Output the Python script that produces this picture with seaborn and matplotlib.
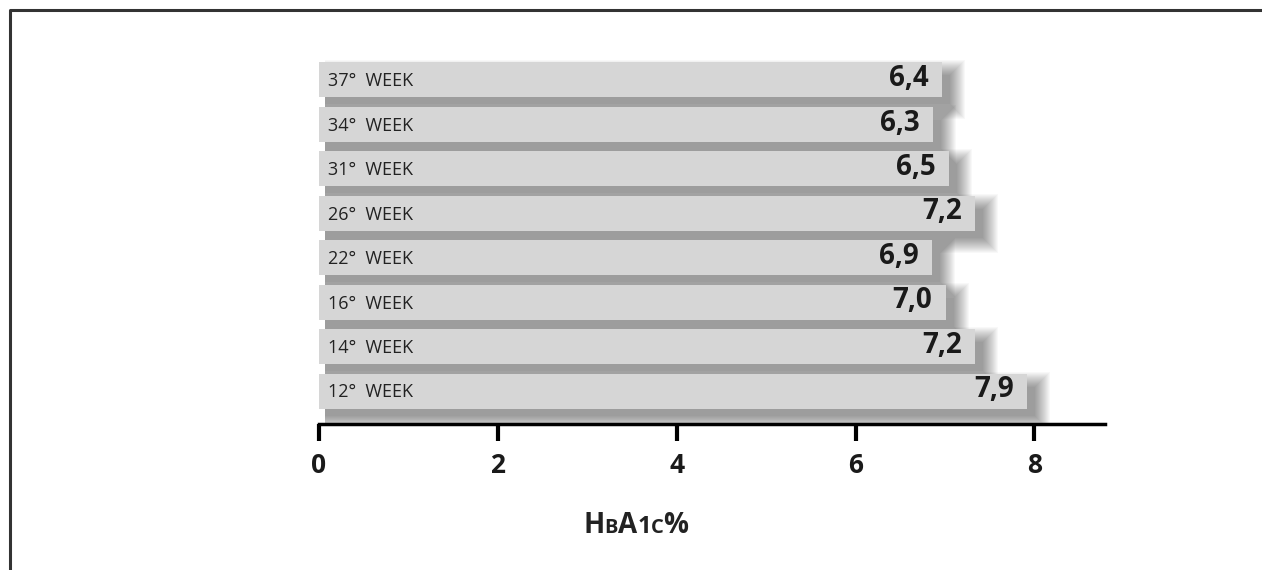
import matplotlib
matplotlib.use("Agg")
import matplotlib.pyplot as plt
import numpy as np
import pandas as pd
import seaborn as sns
from matplotlib.lines import Line2D

weeks = ["37°  WEEK", "34°  WEEK", "31°  WEEK", "26°  WEEK", "22°  WEEK", "16°  WEEK", "14°  WEEK", "12°  WEEK"]
hba1c = [6.4, 6.3, 6.5, 7.2, 6.9, 7.0, 7.2, 7.9]
# bar lengths as drawn in the original chart (not exactly proportional to the printed values)
bar_len = [6.97, 6.87, 7.05, 7.34, 6.86, 7.01, 7.34, 7.92]
ticks = [0, 2, 4, 6, 8]

df = pd.DataFrame({"week": weeks, "len": bar_len, "val": hba1c})

sns.set_style("white")
plt.rcParams["font.family"] = ["Open Sans", "DejaVu Sans"]

fig = plt.figure(figsize=(12.62, 5.70), dpi=100)
ax = fig.add_axes([319 / 1262, (570 - 424) / 570, (1105 - 319) / 1262, (424 - 55) / 570])

pos = np.arange(len(weeks))
bh = 0.79
px_x, px_y = 89.4, 44.4
# soft drop shadow: many stacked translucent layers
for s in np.arange(0, 16, 1.0):
    ax.barh(pos + 10 / px_y, df["len"] + (2 + s) / px_x, height=bh + 2 * s / px_y - 6 / px_y,
            left=6 / px_x, color="black", alpha=0.028, linewidth=0, zorder=1)

sns.barplot(data=df, x="len", y="week", orient="h", color="#d6d6d6", saturation=1,
            width=bh, ax=ax, zorder=3)
for p in ax.patches:
    if p.get_zorder() == 3:
        p.set_linewidth(0)

for i, (w, L, v) in enumerate(zip(weeks, bar_len, hba1c)):
    ax.text(0.1, i + 0.03, w, va="center", ha="left", fontsize=13, color="#222222", zorder=5)
    ax.text(L - 0.15, i - 0.03, f"{v:.1f}".replace(".", ","), va="center", ha="right",
            fontsize=20, fontweight="bold", color="#1a1a1a", zorder=5)

ax.set_xlim(0, 8.79)
ax.set_ylim(7 + 0.74, -0.56)
ax.set_xticks(ticks)
ax.set_xticklabels([str(t) for t in ticks], fontsize=19, fontweight="bold", color="#1a1a1a")
ax.tick_params(axis="x", direction="out", length=12, width=3, color="black", pad=8, bottom=True)
ax.set_yticks([])
ax.set_ylabel("")
ax.set_xlabel("")
for sp in ["left", "top", "right"]:
    ax.spines[sp].set_visible(False)
ax.spines["bottom"].set_linewidth(2.5)
ax.spines["bottom"].set_color("black")

# axis title in small caps: HbA1c%
pieces = [("H", 20), ("B", 14.5), ("A", 20), ("1", 17), ("C", 14.5), ("%", 20)]
fig.canvas.draw()
r = fig.canvas.get_renderer()
widths = []
for ch, fs in pieces:
    t = fig.text(0, 0, ch, fontsize=fs, fontweight="bold")
    widths.append(t.get_window_extent(r).width)
    t.remove()
x = 636 - sum(widths) / 2
for (ch, fs), wd in zip(pieces, widths):
    fig.text(x / 1262, (570 - 533) / 570, ch, fontsize=fs, fontweight="bold",
             color="#222222", ha="left", va="baseline")
    x += wd

# outer frame (top and left edges)
fig.add_artist(Line2D([10 / 1262, 10 / 1262, 1], [0, 1 - 10 / 570, 1 - 10 / 570],
                      transform=fig.transFigure, color="#333333", linewidth=2.2))

fig.savefig("out.png", dpi=100)
